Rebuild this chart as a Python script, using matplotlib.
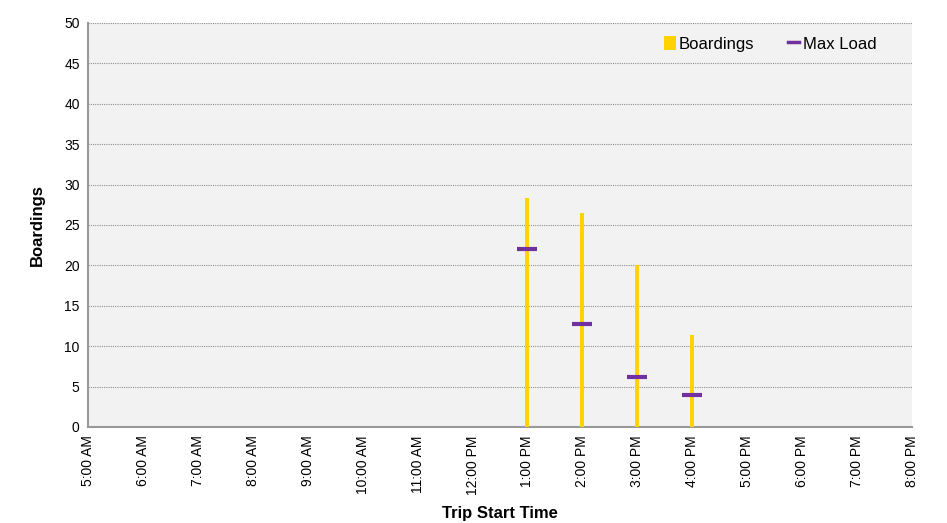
import matplotlib
matplotlib.use("Agg")
import matplotlib.pyplot as plt
from matplotlib.lines import Line2D
from matplotlib.patches import Patch

# ---------------- DATA ----------------
hours = [5, 6, 7, 8, 9, 10, 11, 12, 13, 14, 15, 16, 17, 18, 19, 20]
hour_labels = ["5:00 AM", "6:00 AM", "7:00 AM", "8:00 AM", "9:00 AM", "10:00 AM",
               "11:00 AM", "12:00 PM", "1:00 PM", "2:00 PM", "3:00 PM", "4:00 PM",
               "5:00 PM", "6:00 PM", "7:00 PM", "8:00 PM"]

trip_start = [13, 14, 15, 16]
boardings = [28.3, 26.5, 20.1, 11.4]
max_load = [22.0, 12.8, 6.2, 4.0]

yticks = [0, 5, 10, 15, 20, 25, 30, 35, 40, 45, 50]

# ---------------- STYLE ----------------
plt.rcParams["font.family"] = ["Liberation Sans", "DejaVu Sans"]
gold = "#FFD200"
purple = "#7030A0"

fig = plt.figure(figsize=(9.47, 5.23), dpi=100)
ax = fig.add_axes([0.0929, 0.1836, 0.8702, 0.7725])
ax.set_facecolor("#F2F2F2")

ax.vlines(trip_start, 0, boardings, color=gold, linewidth=2.8, zorder=3)
ax.scatter(trip_start, max_load, marker="_", s=190, linewidths=3.0,
           color=purple, zorder=4)

ax.set_xlim(5, 20)
ax.set_ylim(0, 50)
ax.set_xticks(hours)
ax.set_xticklabels(hour_labels, rotation=90)
ax.set_yticks(yticks)
ax.tick_params(axis="both", length=0, labelsize=10, pad=6)

ax.yaxis.grid(True, linestyle=(0, (1, 1)), color="#909090", linewidth=0.8)
ax.set_axisbelow(True)

for s in ["top", "right"]:
    ax.spines[s].set_visible(False)
for s in ["left", "bottom"]:
    ax.spines[s].set_color("#999999")
    ax.spines[s].set_linewidth(1.5)

ax.set_xlabel("Trip Start Time", fontsize=12, fontweight="bold", labelpad=8)
ax.set_ylabel("Boardings", fontsize=12, fontweight="bold", labelpad=14)

handles = [
    Patch(facecolor=gold, label="Boardings"),
    Line2D([0], [0], color=purple, linewidth=2.5, label="Max Load"),
]
ax.legend(handles=handles, loc="upper right", ncol=2, frameon=False,
          fontsize=12, handlelength=0.7, handleheight=0.9, handletextpad=0.2,
          columnspacing=2.0, bbox_to_anchor=(0.975, 1.005))

fig.savefig("out.png", dpi=100)
